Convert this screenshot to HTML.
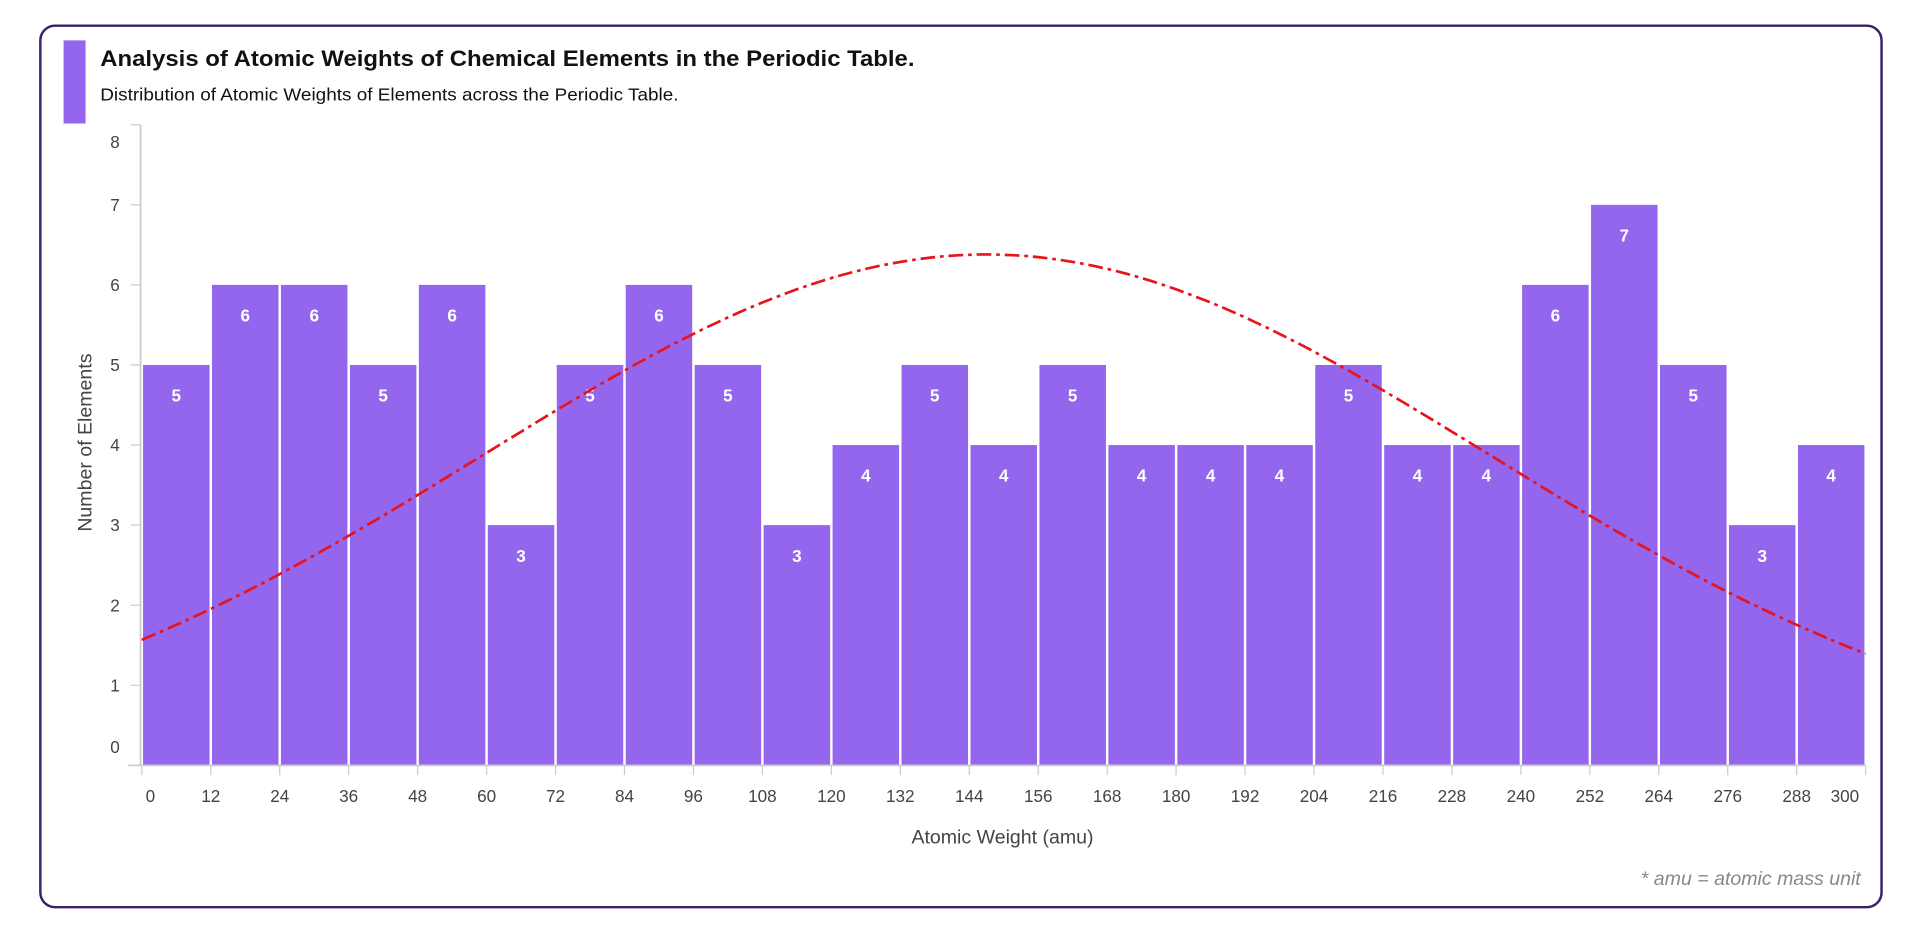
<!DOCTYPE html>
<html><head><meta charset="utf-8"><style>
html,body{margin:0;padding:0;background:#fff;}
svg{display:block;}
text{font-family:"Liberation Sans",sans-serif;}
</style></head><body>
<svg id="c" width="1917" height="928" viewBox="0 0 1568 759" xmlns="http://www.w3.org/2000/svg">
<rect x="33" y="21" width="1506" height="721" rx="12" fill="#fff" stroke="#3b1f6b" stroke-width="2"/>
<rect x="52" y="33" width="18" height="68" fill="#9466ee"/>
<text x="82" y="54" font-size="18" font-weight="bold" fill="#111" textLength="666" lengthAdjust="spacingAndGlyphs">Analysis of Atomic Weights of Chemical Elements in the Periodic Table.</text>
<text x="82" y="82" font-size="14" fill="#111" textLength="473" lengthAdjust="spacingAndGlyphs">Distribution of Atomic Weights of Elements across the Periodic Table.</text>
<g id="g"></g>
<text x="820" y="690" font-size="16" fill="#444" text-anchor="middle">Atomic Weight (amu)</text>
<text transform="translate(75,362) rotate(-90)" font-size="16" fill="#444" text-anchor="middle">Number of Elements</text>
<text x="1522" y="724" font-size="16" font-style="italic" fill="#888" text-anchor="end">* amu = atomic mass unit</text>
</svg>
<script>
var g=document.getElementById('g'),s='';
var vals=[5,6,6,5,6,3,5,6,5,3,4,5,4,5,4,4,4,5,4,4,6,7,5,3,4];
var x0=116,bw=56.4,y0=626,u=65.5;
function X(v){return x0+v/12*bw;}function Y(v){return y0-v*u;}
vals.forEach(function(v,i){var x=x0+i*bw;
s+='<rect x="'+(x+1)+'" y="'+Y(v)+'" width="'+(bw-2)+'" height="'+(v*u)+'" fill="#9466ee"/>';
s+='<text x="'+(x+bw/2)+'" y="'+(Y(v)+30)+'" font-size="14" font-weight="bold" fill="#fff" text-anchor="middle">'+v+'</text>';});
s+='<line x1="115" y1="102" x2="115" y2="626" stroke="#ccc" stroke-width="1.5"/>';
s+='<line x1="105" y1="626" x2="1526" y2="626" stroke="#ccc" stroke-width="1.5"/>';
for(var k=0;k<=8;k++){var y=Y(k);s+='<line x1="107" y1="'+y+'" x2="115" y2="'+y+'" stroke="#ccc"/>';
var ly=k==8?y+19:(k==0?y-10:y+5);
s+='<text x="98" y="'+ly+'" font-size="14" fill="#444" text-anchor="end">'+k+'</text>';}
for(var t=0;t<=300;t+=12){var x=X(t);s+='<line x1="'+x+'" y1="626" x2="'+x+'" y2="634" stroke="#ccc"/>';
var lx=t==0?x+7:(t==300?x-17:x);s+='<text x="'+lx+'" y="656" font-size="14" fill="#444" text-anchor="middle">'+t+'</text>';}
var d='';for(var a=0;a<=300;a+=2){var v=6.38*Math.exp(-Math.pow(a-147,2)/(2*7700));d+=(a?'L':'M')+X(a).toFixed(1)+' '+Y(v).toFixed(1);}
s+='<path d="'+d+'" fill="none" stroke="#e8141c" stroke-width="2.2" stroke-dasharray="12 4 3 4"/>';
g.innerHTML=s;
</script>
</body></html>
